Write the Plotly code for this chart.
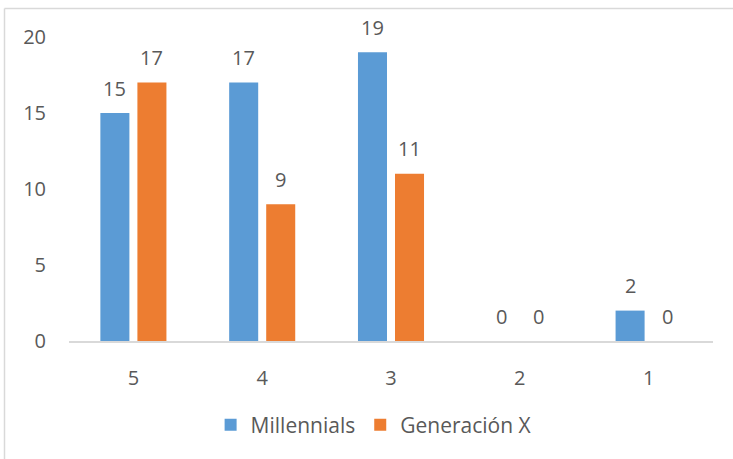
import plotly.graph_objects as go

categories = ["5", "4", "3", "2", "1"]
millennials = [15, 17, 19, 0, 2]
generacion_x = [17, 9, 11, 0, 0]
series_names = ["Millennials", "Generación X"]
colors = ["#5B9BD5", "#ED7D31"]

FONT = "Open Sans"
TEXT_COLOR = "#595959"

W, H = 733, 459
L, R, T, B = 69, 20, 37, 118
plot_w = W - L - R
plot_h = H - T - B

BARGAP = 0.425
BARGROUPGAP = 0.216

fig = go.Figure()
for name, vals, col in zip(series_names, [millennials, generacion_x], colors):
    fig.add_trace(go.Bar(
        x=categories, y=vals, name=name,
        marker=dict(color=col, line=dict(width=0)),
    ))

# value labels above each bar, shifted to the bar's slot within its group
cat_w = plot_w / len(categories)
slot = cat_w * (1 - BARGAP) / 2
for i, vals in enumerate([millennials, generacion_x]):
    shift = (i - 0.5) * slot
    for idx, v in enumerate(vals):
        fig.add_annotation(
            x=idx, y=v, xref="x", yref="y", text=str(v), showarrow=False,
            xshift=shift, yshift=25, yanchor="middle",
            font=dict(family=FONT, size=20, color=TEXT_COLOR),
        )

# chart frame: top and left edges
xl = (4.5 - L) / plot_w
yt = 1 + (T - 8.5) / plot_h
yb = -(B + 5) / plot_h
xr = 1 + (R + 5) / plot_w
fig.add_shape(type="line", xref="paper", yref="paper", x0=xl, x1=xl, y0=yb, y1=yt,
              line=dict(color="#D9D9D9", width=1.5))
fig.add_shape(type="line", xref="paper", yref="paper", x0=xl, x1=xr, y0=yt, y1=yt,
              line=dict(color="#D9D9D9", width=1.5))

fig.update_layout(
    width=W, height=H,
    margin=dict(l=L, r=R, t=T, b=B),
    paper_bgcolor="white", plot_bgcolor="white",
    barmode="group", bargap=BARGAP, bargroupgap=BARGROUPGAP,
    font=dict(family=FONT, size=20, color=TEXT_COLOR),
    showlegend=True,
    legend=dict(
        orientation="h", x=0.473, xanchor="center",
        y=-(425 - (H - B)) / plot_h, yanchor="middle",
        font=dict(family=FONT, size=21, color=TEXT_COLOR),
        itemwidth=30, traceorder="normal",
    ),
    xaxis=dict(
        type="category",
        showline=True, linecolor="#D9D9D9", linewidth=2,
        showgrid=False, ticks="", ticklabelstandoff=18,
        tickfont=dict(family=FONT, size=20, color=TEXT_COLOR),
    ),
    yaxis=dict(
        range=[0, 20], tickvals=[0, 5, 10, 15, 20],
        showline=False, showgrid=False, zeroline=False, ticks="",
        ticklabelstandoff=22,
        tickfont=dict(family=FONT, size=20, color=TEXT_COLOR),
    ),
)

fig.write_html("out.html")
